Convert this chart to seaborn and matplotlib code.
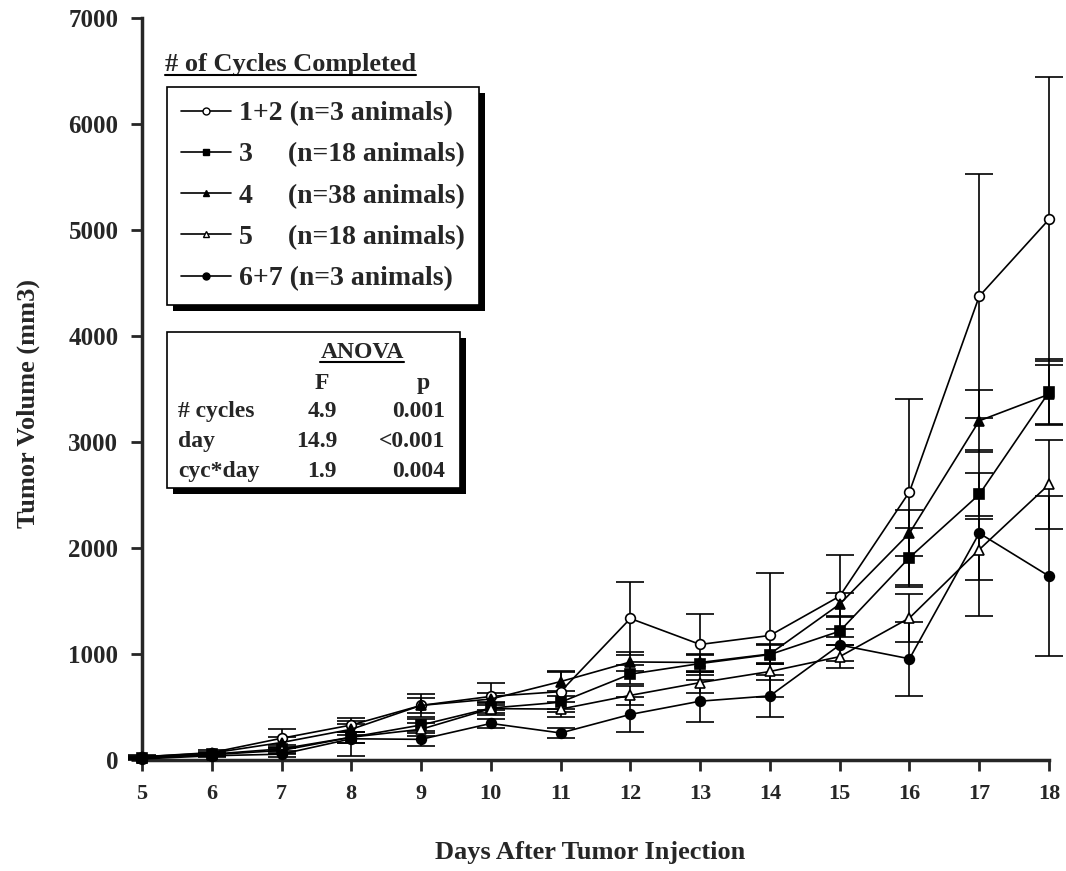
import matplotlib
matplotlib.use("Agg")
import matplotlib.pyplot as plt
import seaborn as sns
from matplotlib.patches import Rectangle
from matplotlib.lines import Line2D

# tumor volume (mm3) per day, mean and error
days = list(range(5, 19))

cyc12 = [30, 70, 205, 330, 515, 600, 645, 1335, 1090, 1175, 1545, 2530, 4375, 5100]
cyc12_err = [15, 20, 90, 70, 110, 130, 190, 340, 290, 585, 385, 875, 1150, 1340]

cyc3 = [20, 55, 105, 215, 330, 490, 545, 810, 910, 995, 1215, 1910, 2505, 3470]
cyc3_err = [10, 15, 40, 50, 60, 50, 60, 90, 80, 90, 130, 280, 200, 310]

cyc4 = [30, 65, 165, 290, 515, 575, 740, 925, 920, 1000, 1470, 2140, 3200, 3450]
cyc4_err = [10, 15, 50, 50, 70, 60, 90, 90, 80, 90, 110, 220, 290, 280]

cyc5 = [20, 50, 90, 215, 290, 485, 480, 610, 730, 835, 975, 1340, 1985, 2600]
cyc5_err = [10, 15, 30, 50, 60, 60, 70, 90, 100, 80, 110, 230, 290, 420]

cyc67 = [10, 40, 55, 200, 195, 345, 255, 430, 555, 605, 1085, 955, 2140, 1735]
cyc67_err = [10, 15, 30, 165, 60, 40, 45, 165, 200, 200, 150, 350, 780, 755]

labels = ["1+2 (n=3 animals)", "3     (n=18 animals)", "4     (n=38 animals)",
          "5     (n=18 animals)", "6+7 (n=3 animals)"]

anova_rows = ["# cycles", "day", "cyc*day"]
anova_F = ["4.9", "14.9", "1.9"]
anova_p = ["0.001", "<0.001", "0.004"]

series = [
    (cyc12, cyc12_err, "o", "white"),
    (cyc3, cyc3_err, "s", "black"),
    (cyc4, cyc4_err, "^", "black"),
    (cyc5, cyc5_err, "^", "white"),
    (cyc67, cyc67_err, "o", "black"),
]

sns.set_style("ticks")
plt.rcParams["font.family"] = ["Liberation Serif", "DejaVu Serif"]
plt.rcParams["font.weight"] = "bold"

W, H = 1066, 871
def fx(px): return px / W
def fy(py): return 1 - py / H

fig = plt.figure(figsize=(W / 100, H / 100), dpi=100)
ax = fig.add_axes([fx(142), fy(760), (1049 - 142) / W, (760 - 18) / H])

for vals, err, mk, fc in series:
    ax.errorbar(days, vals, yerr=err, fmt="none", ecolor="black",
                elinewidth=1.2, capsize=10, capthick=1.2, clip_on=False, zorder=2)
    sns.lineplot(x=days, y=vals, ax=ax, color="black", lw=1.2, marker=mk,
                 markersize=7, markerfacecolor=fc, markeredgecolor="black",
                 markeredgewidth=1.2, clip_on=False, zorder=3)

ax.set_xlim(5, 18)
ax.set_ylim(0, 7000)
ax.set_xticks(days)
ax.set_yticks(range(0, 7001, 1000))
ax.set_xlabel("")
ax.set_ylabel("")
sns.despine(ax=ax)
for s in ["left", "bottom"]:
    ax.spines[s].set_linewidth(2.5)
ax.tick_params(axis="y", direction="out", length=8, width=2, pad=9, labelsize=18)
ax.tick_params(axis="x", direction="out", length=8, width=2, pad=9, labelsize=16)

fig.text(fx(28), fy(404), "Tumor Volume (mm3)", rotation=90, ha="center", va="center", fontsize=19)
fig.text(fx(590), fy(852), "Days After Tumor Injection", ha="center", va="center", fontsize=19)

# legend box
handles = [Line2D([], [], color="black", lw=1.2, marker=mk, markersize=5,
                  markerfacecolor=fc, markeredgecolor="black")
           for _, _, mk, fc in series]
leg = fig.legend(handles, labels, loc="upper left", bbox_to_anchor=(fx(167), fy(87)),
                 frameon=True, fancybox=False, edgecolor="black", framealpha=1,
                 fontsize=20, handlelength=1.8, handletextpad=0.3, borderpad=0.5,
                 labelspacing=0.57, borderaxespad=0)
leg.get_frame().set_linewidth(1.2)
leg.set_zorder(5)

title = fig.text(fx(165), fy(65), "# of Cycles Completed", ha="left", va="center", fontsize=19)

# anova box
box_x0, box_y0, box_x1, box_y1 = 167, 332, 460, 488
fig.add_artist(Rectangle((fx(box_x0 + 6), fy(box_y1 + 6)), (box_x1 - box_x0) / W,
                         (box_y1 - box_y0) / H, transform=fig.transFigure,
                         facecolor="black", edgecolor="none", zorder=4.5))
fig.add_artist(Rectangle((fx(box_x0), fy(box_y1)), (box_x1 - box_x0) / W,
                         (box_y1 - box_y0) / H, transform=fig.transFigure,
                         facecolor="white", edgecolor="black", lw=1.2, zorder=4.8))
anova_title = fig.text(fx(362), fy(353), "ANOVA", ha="center", va="center", fontsize=17, zorder=6)
fig.text(fx(322), fy(383), "F", ha="center", va="center", fontsize=17, zorder=6)
fig.text(fx(423), fy(383), "p", ha="center", va="center", fontsize=17, zorder=6)
for i, (r, f, p) in enumerate(zip(anova_rows, anova_F, anova_p)):
    yy = fy(411 + 30 * i)
    fig.text(fx(178), yy, r, ha="left", va="center", fontsize=17, zorder=6)
    fig.text(fx(337), yy, f, ha="right", va="center", fontsize=17, zorder=6)
    fig.text(fx(445), yy, p, ha="right", va="center", fontsize=17, zorder=6)

# shadow behind legend and underlines
fig.canvas.draw()
bb = leg.get_window_extent()
fig.add_artist(Rectangle(((bb.x0 + 6) / W, (bb.y0 - 6) / H), bb.width / W, bb.height / H,
                         transform=fig.transFigure, facecolor="black", edgecolor="none", zorder=4.5))
for t in [title, anova_title]:
    tb = t.get_window_extent()
    fig.add_artist(Line2D([tb.x0 / W, tb.x1 / W], [(tb.y0 + 1) / H, (tb.y0 + 1) / H],
                          transform=fig.transFigure, color="black", lw=1.5, zorder=6))

fig.savefig("out.png", dpi=100)
